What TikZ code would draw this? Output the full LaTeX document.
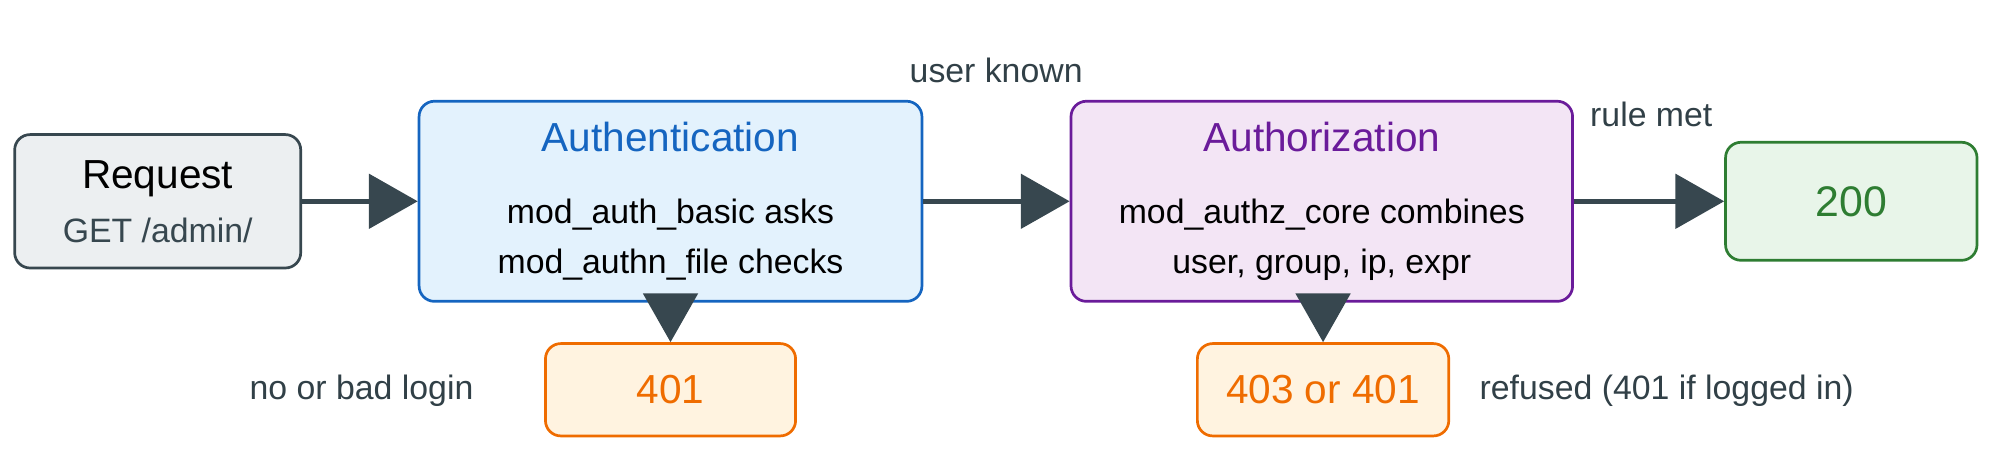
\documentclass[tikz,border=0pt]{standalone}
\usepackage{fontspec}
\setmainfont{Liberation Sans}
\usetikzlibrary{arrows.meta}
\definecolor{slate}{HTML}{37474F}
\definecolor{reqfill}{HTML}{ECEFF1}
\definecolor{authnline}{HTML}{1565C0}
\definecolor{authnfill}{HTML}{E3F2FD}
\definecolor{authzline}{HTML}{6A1B9A}
\definecolor{authzfill}{HTML}{F3E5F5}
\definecolor{okline}{HTML}{2E7D32}
\definecolor{okfill}{HTML}{E8F5E9}
\definecolor{errline}{HTML}{EF6C00}
\definecolor{errfill}{HTML}{FFF3E0}
\tikzset{
  box/.style={draw, line width=0.6pt, rounded corners=0.12cm, align=center, inner sep=0pt},
  flow/.style={draw=slate, line width=1.2pt, -{Triangle[length=0.38cm, width=0.42cm]}},
  note/.style={font=\fontsize{7.5}{9}\selectfont, text=slate!90!black}
}
\begin{document}
\begin{tikzpicture}[x=0.01cm, y=-0.01cm]
                \useasboundingbox (0,0) rectangle (1560,351);
                \node[box, draw=slate, fill=reqfill, font=\fontsize{7.5}{10}\selectfont, minimum width=2.23cm, minimum height=1.04cm] (req) at (123,157)
                    {{\fontsize{9}{11}\selectfont Request}\\[2pt] {\color{slate} GET /admin/}};
                \node[box, draw=authnline, fill=authnfill, font=\fontsize{7.5}{11}\selectfont, minimum width=3.92cm, minimum height=1.56cm] (authn) at (523,157)
                    {{\fontsize{9}{11}\selectfont\color{authnline} Authentication}\\[5pt]
                     mod\_auth\_basic asks\\ mod\_authn\_file checks};
                \node[box, draw=authzline, fill=authzfill, font=\fontsize{7.5}{11}\selectfont, minimum width=3.91cm, minimum height=1.56cm] (authz) at (1031,157)
                    {{\fontsize{9}{11}\selectfont\color{authzline} Authorization}\\[5pt]
                     mod\_authz\_core combines\\ user, group, ip, expr};
                \node[box, draw=okline, fill=okfill, text=okline, font=\fontsize{9.5}{11}\selectfont, minimum width=1.96cm, minimum height=0.92cm] (ok) at (1444,157) {200};
                \node[box, draw=errline, fill=errfill, text=errline, font=\fontsize{9}{11}\selectfont, minimum width=1.95cm, minimum height=0.72cm] (nologin) at (523,304) {401};
                \node[box, draw=errline, fill=errfill, text=errline, font=\fontsize{9}{11}\selectfont, minimum width=1.96cm, minimum height=0.72cm] (refused) at (1032,304) {403 or 401};
                \draw[flow] (req) -- (authn);
                \draw[flow] (authn) -- (authz);
                \draw[flow] (authz) -- (ok);
                \draw[flow] (authn) -- (nologin);
                \draw[flow] (authz.south -| refused.north) -- (refused);
                \node[note] (known) at (777,55) {user known};
                \node[note] (met) at (1288,89) {rule met};
                \node[note] (bad) at (282,305) {no or bad login};
                \node[note] (why) at (1300,305) {refused (401 if logged in)};
            \end{tikzpicture}
\end{document}
